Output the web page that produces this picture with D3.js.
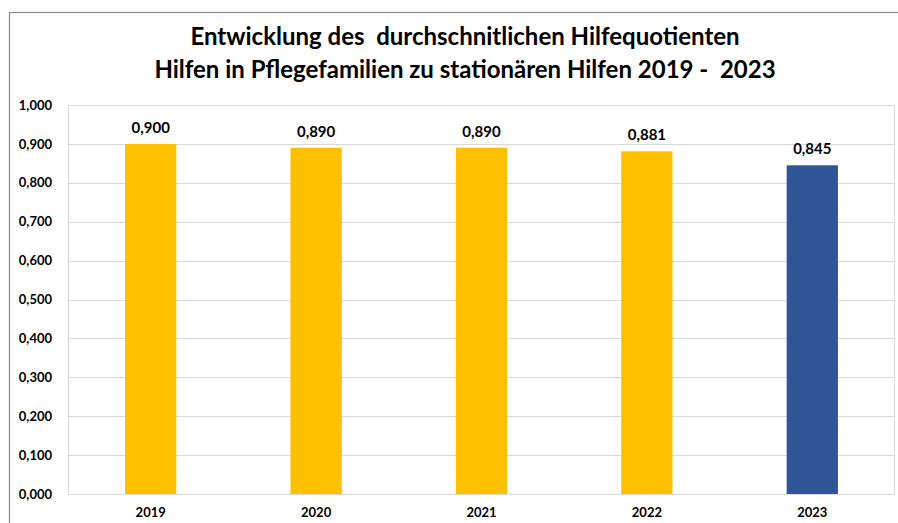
<!DOCTYPE html>
<html>
<head>
<meta charset="utf-8">
<script src="https://cdn.jsdelivr.net/npm/d3@7"></script>
<style>
body { margin: 0; background: #fff; }
svg { display: block; font-family: Lato, "Open Sans", sans-serif; }
text { white-space: pre; }
</style>
</head>
<body>
<svg width="898" height="523"></svg>
<script>
var years = ["2019", "2020", "2021", "2022", "2023"],
	quotients = [0.900, 0.890, 0.890, 0.881, 0.845],
	yTicks = [0, 0.1, 0.2, 0.3, 0.4, 0.5, 0.6, 0.7, 0.8, 0.9, 1.0],
	titleLines = ["Entwicklung des  durchschnitlichen Hilfequotienten",
		"Hilfen in Pflegefamilien zu stationären Hilfen 2019 -  2023"];

var svg = d3.select("svg"),
	margin = {top: 105, right: 3, bottom: 29, left: 68},
	width = 898 - margin.left - margin.right,
	height = 523 - margin.top - margin.bottom;

var fmt = function(v){ return d3.format(".3f")(v).replace(".", ","); };

// outer chart frame
svg.append("rect")
	.attr("x", 9.5).attr("y", 12.5)
	.attr("width", 900).attr("height", 520)
	.attr("fill", "none")
	.attr("stroke", "#8c8c8c")
	.attr("stroke-width", 1.2);

svg.selectAll(".title")
	.data(titleLines)
	.enter().append("text")
	.attr("class", "title")
	.attr("x", 465)
	.attr("y", function(d, i){ return 45 + i * 33; })
	.attr("text-anchor", "middle")
	.style("font-size", "24px")
	.style("font-weight", "bold")
	.attr("fill", "#000")
	.text(function(d){ return d; });

var x = d3.scaleBand().domain(years).range([0, width]).paddingInner(0.69).paddingOuter(0.345),
	y = d3.scaleLinear().domain([0, 1]).range([height, 0]);

var g = svg.append("g")
	.attr("transform", "translate(" + margin.left + "," + margin.top + ")");

// gridlines
g.selectAll(".grid")
	.data(yTicks)
	.enter().append("line")
	.attr("class", "grid")
	.attr("x1", 0).attr("x2", width)
	.attr("y1", function(d){ return Math.round(y(d)) + 0.5; })
	.attr("y2", function(d){ return Math.round(y(d)) + 0.5; })
	.attr("stroke", "#d9d9d9");

// plot area border
g.append("rect")
	.attr("x", 0.5).attr("y", 0.5)
	.attr("width", width - 1).attr("height", height)
	.attr("fill", "none")
	.attr("stroke", "#d9d9d9");

var yAxis = g.append("g")
	.call(d3.axisLeft(y).tickValues(yTicks).tickFormat(fmt).tickSize(0).tickPadding(16));
yAxis.select(".domain").remove();
yAxis.selectAll("text")
	.style("font-size", "13px")
	.style("font-weight", "bold")
	.style("font-family", "Lato, sans-serif")
	.attr("fill", "#000");

var xAxis = g.append("g")
	.attr("transform", "translate(0," + height + ")")
	.call(d3.axisBottom(x).tickSize(0).tickPadding(14));
xAxis.select(".domain").remove();
xAxis.selectAll("text")
	.style("font-size", "13px")
	.style("font-weight", "bold")
	.style("font-family", "Lato, sans-serif")
	.attr("fill", "#000");

var data = years.map(function(d, i){ return {year: d, value: quotients[i]}; });

g.selectAll(".bar")
	.data(data)
	.enter().append("rect")
	.attr("class", "bar")
	.attr("x", function(d){ return x(d.year); })
	.attr("y", function(d){ return y(d.value); })
	.attr("width", x.bandwidth())
	.attr("height", function(d){ return height - y(d.value); })
	.attr("fill", function(d, i){ return i === data.length - 1 ? "#2F5597" : "#FFC000"; });

g.selectAll(".label")
	.data(data)
	.enter().append("text")
	.attr("class", "label")
	.attr("x", function(d){ return x(d.year) + x.bandwidth() / 2; })
	.attr("y", function(d){ return y(d.value) - 11; })
	.attr("text-anchor", "middle")
	.style("font-size", "15px")
	.style("font-weight", "bold")
	.attr("fill", "#000")
	.text(function(d){ return fmt(d.value); });
</script>
</body>
</html>
